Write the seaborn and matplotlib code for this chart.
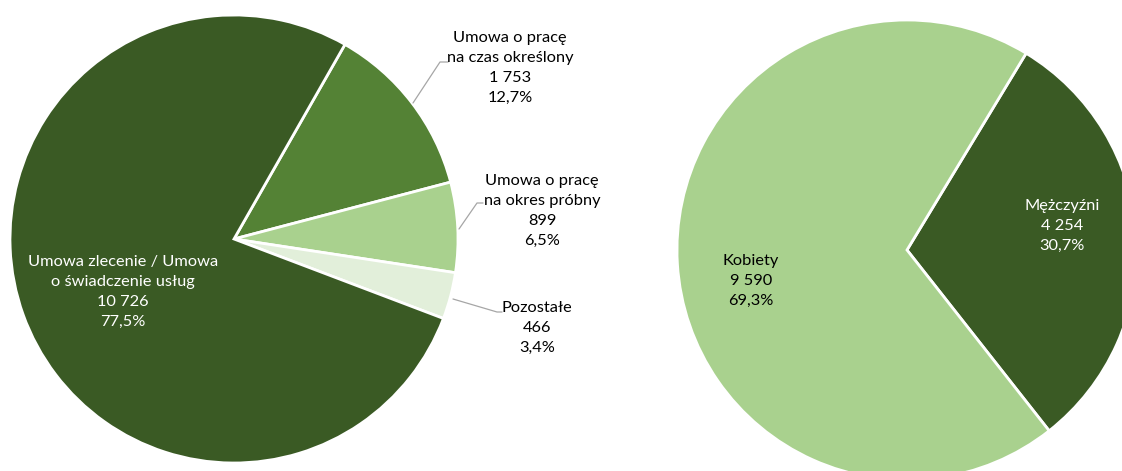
import matplotlib
matplotlib.use("Agg")
import matplotlib.pyplot as plt
import seaborn as sns

# --- Data ---
contract_labels = ["Umowa o pracę\nna czas określony", "Umowa o pracę\nna okres próbny",
                   "Pozostałe", "Umowa zlecenie / Umowa\no świadczenie usług"]
contract_values = [1753, 899, 466, 10726]
contract_pct = ["12,7%", "6,5%", "3,4%", "77,5%"]

gender_labels = ["Mężczyźni", "Kobiety"]
gender_values = [4254, 9590]
gender_pct = ["30,7%", "69,3%"]

# --- Style ---
sns.set_theme(style="white")
plt.rcParams['font.family'] = ['Lato', 'DejaVu Sans']

dark = "#3A5A24"
mid = "#548235"
light = "#A9D18E"
pale = "#E2EFDA"

W, H = 1122, 471
fig = plt.figure(figsize=(W / 100, H / 100), dpi=100)
ax = fig.add_axes([0, 0, 1, 1])

wedge_style = dict(edgecolor="white", linewidth=2)
ax.pie(contract_values, colors=[mid, light, pale, dark], startangle=60.3,
       counterclock=False, center=(234, H - 239), radius=224, wedgeprops=wedge_style)
ax.pie(gender_values, colors=[dark, light], startangle=58.8,
       counterclock=False, center=(907, H - 250), radius=230, wedgeprops=wedge_style)

ax.set_xlim(0, W)
ax.set_ylim(0, H)
ax.set_aspect("equal")
ax.set_axis_off()


def fmt(v):
    return f"{v:,}".replace(",", " ")


def label(x, y, text, color):
    # y is the pixel row of the first line (from the top)
    ax.text(x, H - y, text, ha="center", va="top", color=color,
            fontsize=11.8, linespacing=1.55)


# left pie labels: (x, top y, color)
left_pos = [(510, 31, "black"), (542, 174, "black"), (537, 301, "black"), (123, 255, "white")]
for lab, v, p, (x, y, c) in zip(contract_labels, contract_values, contract_pct, left_pos):
    label(x, y, f"{lab}\n{fmt(v)}\n{p}", c)

right_pos = [(1062, 199, "white"), (751, 254, "black")]
for lab, v, p, (x, y, c) in zip(gender_labels, gender_values, gender_pct, right_pos):
    label(x, y, f"{lab}\n{fmt(v)}\n{p}", c)

# leader lines
lc = "#A6A6A6"
ax.plot([413, 440, 448], [H - 103, H - 62, H - 62], color=lc, lw=0.9)
ax.plot([459, 477, 483], [H - 229, H - 203, H - 203], color=lc, lw=0.9)
ax.plot([453, 497, 502], [H - 299, H - 312, H - 312], color=lc, lw=0.9)

fig.savefig("out.png", dpi=100)
